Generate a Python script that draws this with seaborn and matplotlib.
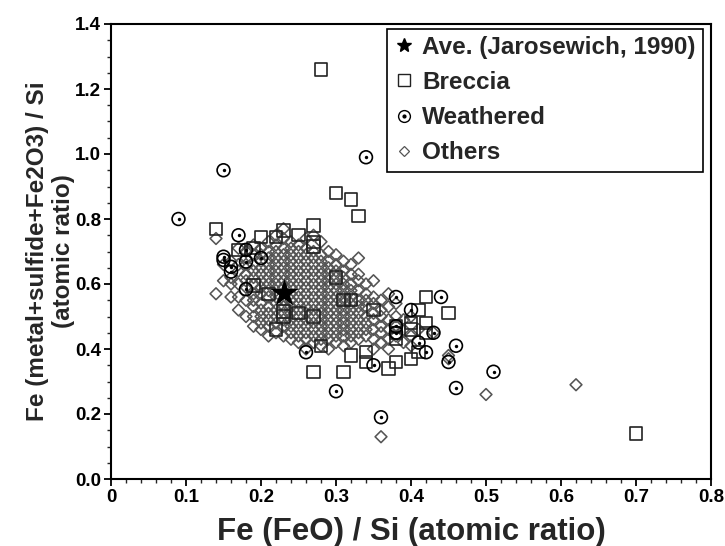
import matplotlib
matplotlib.use("Agg")
import matplotlib.pyplot as plt
import seaborn as sns
import pandas as pd
from matplotlib.lines import Line2D
from matplotlib.legend_handler import HandlerTuple
from matplotlib.ticker import MultipleLocator

# ---------------- data ----------------
ave_x = [0.23]
ave_y = [0.573]

breccia_x = [0.28, 0.30, 0.32, 0.33, 0.14, 0.20, 0.22, 0.23, 0.25, 0.27, 0.27, 0.27,
             0.17, 0.19, 0.19, 0.21, 0.23, 0.23, 0.25, 0.22, 0.28, 0.30, 0.31, 0.32,
             0.42, 0.41, 0.45, 0.35, 0.38, 0.38, 0.38, 0.40, 0.40, 0.42, 0.42, 0.41,
             0.40, 0.32, 0.34, 0.34, 0.38, 0.37, 0.27, 0.31, 0.70, 0.27]
breccia_y = [1.26, 0.88, 0.86, 0.81, 0.77, 0.745, 0.745, 0.765, 0.75, 0.78, 0.73, 0.715,
             0.705, 0.71, 0.595, 0.57, 0.515, 0.50, 0.51, 0.46, 0.41, 0.62, 0.55, 0.55,
             0.56, 0.52, 0.51, 0.52, 0.47, 0.45, 0.43, 0.48, 0.46, 0.48, 0.45, 0.39,
             0.37, 0.38, 0.39, 0.36, 0.36, 0.34, 0.33, 0.33, 0.14, 0.50]

weathered_x = [0.09, 0.15, 0.34, 0.17, 0.15, 0.15, 0.16, 0.16, 0.18, 0.18, 0.20, 0.18,
               0.26, 0.30, 0.36, 0.35, 0.38, 0.38, 0.38, 0.44, 0.40, 0.43, 0.41, 0.42,
               0.46, 0.45, 0.51, 0.46]
weathered_y = [0.80, 0.95, 0.99, 0.75, 0.684, 0.674, 0.653, 0.638, 0.705, 0.669, 0.68, 0.584,
               0.39, 0.27, 0.19, 0.35, 0.56, 0.47, 0.45, 0.56, 0.52, 0.45, 0.42, 0.39,
               0.41, 0.36, 0.33, 0.28]

others_x = (
    [0.14, 0.14]
    + [0.15, 0.15]
    + [0.16] * 4
    + [0.17] * 6
    + [0.18] * 8
    + [0.19] * 11
    + [0.20] * 13
    + [0.21] * 14
    + [0.22] * 15
    + [0.23] * 15
    + [0.24] * 16
    + [0.25] * 16
    + [0.26] * 17
    + [0.27] * 16
    + [0.28] * 16
    + [0.29] * 15
    + [0.30] * 14
    + [0.31] * 13
    + [0.32] * 12
    + [0.33] * 11
    + [0.34] * 8
    + [0.35] * 8
    + [0.36] * 7
    + [0.37] * 6
    + [0.38] * 4
    + [0.39] * 3
    + [0.40] * 3
    + [0.41, 0.43, 0.45, 0.45, 0.50, 0.62]
)
others_y = (
    [0.74, 0.57]
    + [0.66, 0.61]
    + [0.67, 0.62, 0.60, 0.56]
    + [0.71, 0.66, 0.64, 0.60, 0.56, 0.52]
    + [0.70, 0.68, 0.66, 0.63, 0.61, 0.59, 0.55, 0.50]
    + [0.72, 0.69, 0.66, 0.64, 0.62, 0.60, 0.57, 0.55, 0.53, 0.50, 0.47]
    + [0.71, 0.69, 0.67, 0.65, 0.63, 0.61, 0.59, 0.57, 0.54, 0.52, 0.50, 0.48, 0.46]
    + [0.73, 0.70, 0.68, 0.66, 0.64, 0.62, 0.60, 0.58, 0.56, 0.53, 0.51, 0.49, 0.47, 0.44]
    + [0.75, 0.72, 0.70, 0.68, 0.66, 0.64, 0.62, 0.60, 0.58, 0.56, 0.54, 0.52, 0.50, 0.48, 0.45]
    + [0.77, 0.74, 0.71, 0.69, 0.67, 0.65, 0.63, 0.61, 0.59, 0.55, 0.53, 0.51, 0.49, 0.47, 0.44]
    + [0.73, 0.71, 0.69, 0.67, 0.65, 0.63, 0.61, 0.59, 0.57, 0.55, 0.53, 0.51, 0.49, 0.47, 0.45, 0.43]
    + [0.72, 0.70, 0.68, 0.66, 0.64, 0.62, 0.60, 0.58, 0.56, 0.54, 0.52, 0.50, 0.48, 0.46, 0.44, 0.42]
    + [0.74, 0.71, 0.69, 0.67, 0.65, 0.63, 0.61, 0.59, 0.57, 0.55, 0.53, 0.51, 0.49, 0.47, 0.45, 0.43, 0.40]
    + [0.75, 0.70, 0.68, 0.66, 0.64, 0.62, 0.60, 0.58, 0.56, 0.54, 0.52, 0.50, 0.48, 0.46, 0.44, 0.42]
    + [0.73, 0.69, 0.67, 0.65, 0.63, 0.61, 0.59, 0.57, 0.55, 0.53, 0.51, 0.49, 0.47, 0.45, 0.43, 0.41]
    + [0.70, 0.67, 0.65, 0.63, 0.61, 0.59, 0.57, 0.55, 0.53, 0.51, 0.49, 0.47, 0.45, 0.43, 0.40]
    + [0.69, 0.66, 0.64, 0.62, 0.60, 0.58, 0.56, 0.54, 0.52, 0.50, 0.48, 0.46, 0.44, 0.42]
    + [0.67, 0.64, 0.62, 0.60, 0.58, 0.56, 0.54, 0.52, 0.50, 0.48, 0.46, 0.44, 0.41]
    + [0.66, 0.63, 0.60, 0.58, 0.56, 0.54, 0.52, 0.50, 0.48, 0.46, 0.44, 0.42]
    + [0.68, 0.63, 0.61, 0.58, 0.55, 0.53, 0.51, 0.49, 0.47, 0.45, 0.43]
    + [0.60, 0.57, 0.55, 0.53, 0.50, 0.48, 0.46, 0.44]
    + [0.61, 0.56, 0.54, 0.51, 0.49, 0.46, 0.43, 0.40]
    + [0.55, 0.52, 0.50, 0.47, 0.45, 0.42, 0.13]
    + [0.57, 0.53, 0.49, 0.46, 0.43, 0.40]
    + [0.54, 0.50, 0.47, 0.44]
    + [0.49, 0.46, 0.42]
    + [0.50, 0.44, 0.41]
    + [0.46, 0.45, 0.38, 0.37, 0.26, 0.29]
)

x_ticks = [0, 0.1, 0.2, 0.3, 0.4, 0.5, 0.6, 0.7, 0.8]
x_ticklabels = ["0", "0.1", "0.2", "0.3", "0.4", "0.5", "0.6", "0.7", "0.8"]
y_ticks = [0.0, 0.2, 0.4, 0.6, 0.8, 1.0, 1.2, 1.4]
y_ticklabels = ["0.0", "0.2", "0.4", "0.6", "0.8", "1.0", "1.2", "1.4"]

# ---------------- style ----------------
sns.set_theme(style="ticks")
plt.rcParams["font.family"] = ["Liberation Sans", "DejaVu Sans"]
plt.rcParams["font.weight"] = "bold"

fig = plt.figure(figsize=(7.25, 5.46), dpi=100)
ax = fig.add_axes([111 / 725, 1 - 479 / 546, 600 / 725, 455 / 546])

df_o = pd.DataFrame({"x": others_x, "y": others_y})
df_b = pd.DataFrame({"x": breccia_x, "y": breccia_y})
df_w = pd.DataFrame({"x": weathered_x, "y": weathered_y})
df_a = pd.DataFrame({"x": ave_x, "y": ave_y})

sns.scatterplot(data=df_o, x="x", y="y", ax=ax, marker="D", s=36,
                facecolor="none", edgecolor="#555555", linewidth=1.15, legend=False)
sns.scatterplot(data=df_b, x="x", y="y", ax=ax, marker="s", s=80,
                facecolor="none", edgecolor="#222222", linewidth=1.2, legend=False)
sns.scatterplot(data=df_w, x="x", y="y", ax=ax, marker="o", s=85,
                facecolor="none", edgecolor="#000000", linewidth=1.2, legend=False)
sns.scatterplot(data=df_w, x="x", y="y", ax=ax, marker="o", s=6,
                color="#000000", linewidth=0, legend=False)
sns.scatterplot(data=df_a, x="x", y="y", ax=ax, marker="*", s=440,
                color="#000000", linewidth=0, legend=False, zorder=5)

ax.set_xlim(0, 0.8)
ax.set_ylim(0, 1.4)
ax.set_xticks(x_ticks)
ax.set_xticklabels(x_ticklabels)
ax.set_yticks(y_ticks)
ax.set_yticklabels(y_ticklabels)
ax.xaxis.set_minor_locator(MultipleLocator(0.02))
ax.yaxis.set_minor_locator(MultipleLocator(0.05))
ax.tick_params(which="major", direction="out", length=5, width=1.3, labelsize=13.5,
               pad=2, colors="black")
ax.tick_params(which="minor", direction="out", length=3, width=1.0)
for lab in ax.get_xticklabels() + ax.get_yticklabels():
    lab.set_fontweight("bold")
for sp in ax.spines.values():
    sp.set_linewidth(1.5)
    sp.set_color("black")
    sp.set_visible(True)

ax.set_xlabel("Fe (FeO) / Si (atomic ratio)", fontsize=22.5, fontweight="bold", labelpad=8)
ax.set_ylabel("Fe (metal+sulfide+Fe2O3) / Si\n(atomic ratio)", fontsize=17.5,
              fontweight="bold", labelpad=0, linespacing=1.2)

# legend
h_star = Line2D([], [], marker="*", color="black", linestyle="none", markersize=10)
h_sq = Line2D([], [], marker="s", markerfacecolor="none", markeredgecolor="#222222",
              linestyle="none", markersize=8, markeredgewidth=1.0)
h_circ = Line2D([], [], marker="o", markerfacecolor="none", markeredgecolor="black",
                linestyle="none", markersize=8.5, markeredgewidth=1.0)
h_dot = Line2D([], [], marker="o", color="black", linestyle="none", markersize=2)
h_dia = Line2D([], [], marker="D", markerfacecolor="none", markeredgecolor="#555555",
               linestyle="none", markersize=5.5, markeredgewidth=0.9)
leg = ax.legend([h_star, h_sq, (h_circ, h_dot), h_dia],
                ["Ave. (Jarosewich, 1990)", "Breccia", "Weathered", "Others"],
                handler_map={tuple: HandlerTuple(ndivide=1, pad=0)},
                loc="upper right", bbox_to_anchor=(0.987, 0.99), frameon=True,
                fancybox=False, edgecolor="black", framealpha=1,
                prop={"weight": "bold", "size": 17.5}, handlelength=0.8,
                handletextpad=0.35, labelspacing=0.5, borderpad=0.3, borderaxespad=0)
leg.get_frame().set_linewidth(1.2)

fig.savefig("out.png", dpi=100)
